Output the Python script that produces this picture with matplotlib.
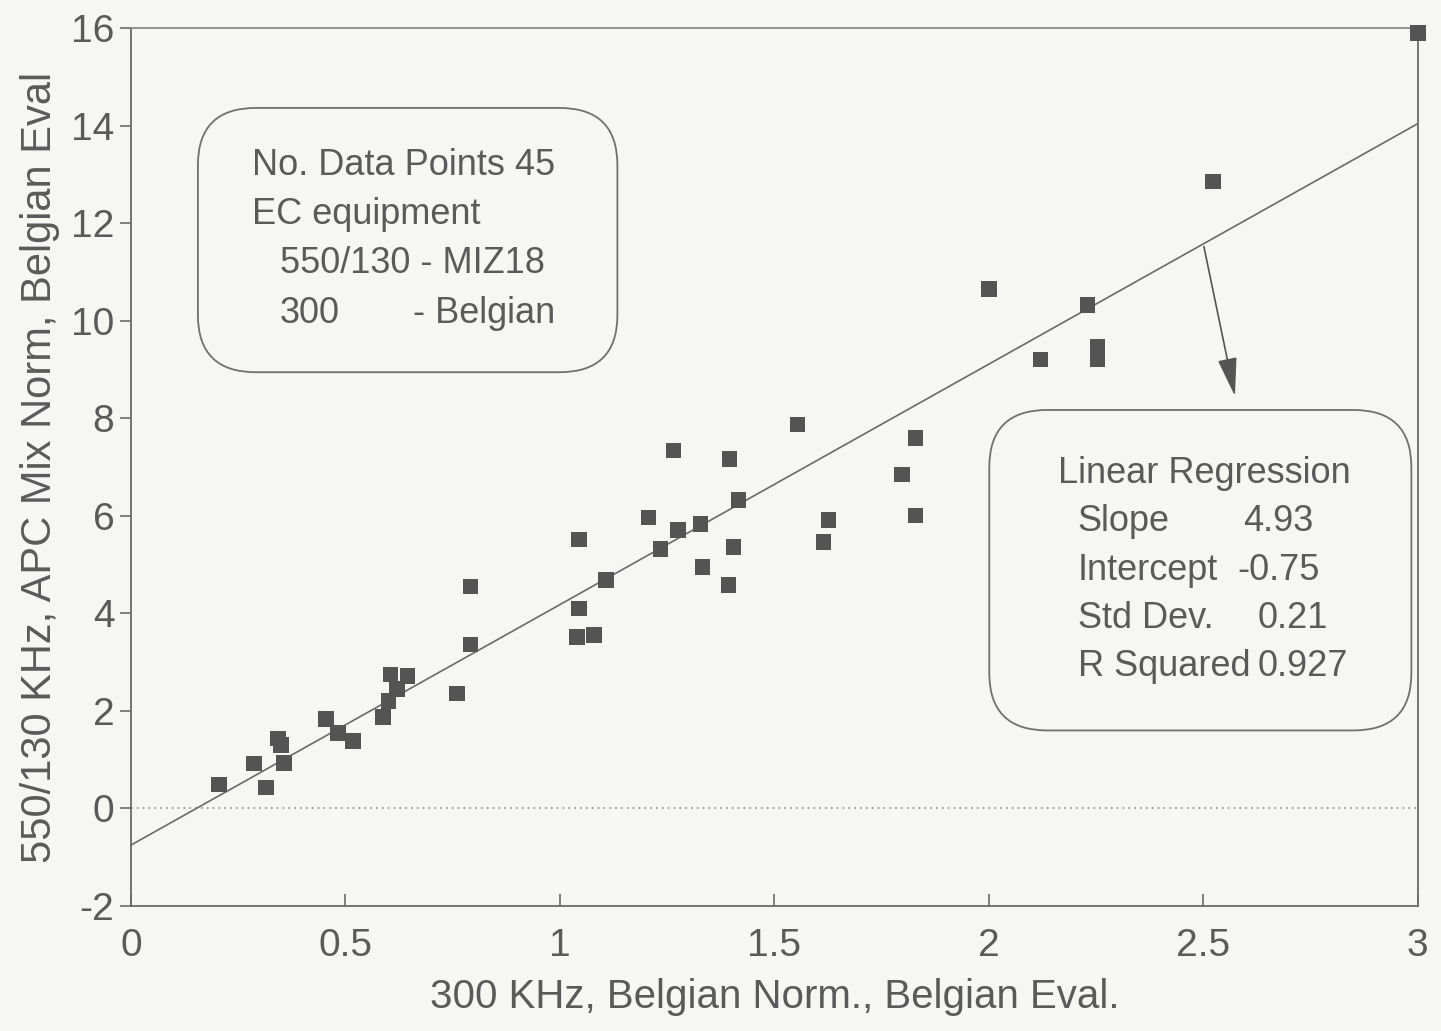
import numpy as np
import matplotlib.pyplot as plt
from matplotlib.patches import FancyBboxPatch

# === Data ===
x_300 = [0.205, 0.287, 0.315, 0.343, 0.350, 0.357, 0.455, 0.483, 0.517, 0.587,
         0.600, 0.605, 0.620, 0.645, 0.760, 0.792, 0.792, 1.044, 1.044, 1.040,
         1.080, 1.107, 1.265, 1.207, 1.235, 1.275, 1.328, 1.395, 1.416, 1.405,
         1.332, 1.393, 1.554, 1.829, 1.798, 1.829, 1.626, 1.614, 2.000, 2.230,
         2.120, 2.253, 2.253, 2.523, 3.000]
y_550 = [0.49, 0.92, 0.43, 1.43, 1.30, 0.93, 1.83, 1.55, 1.38, 1.88,
         2.20, 2.75, 2.45, 2.72, 2.36, 4.55, 3.36, 5.51, 4.10, 3.52,
         3.56, 4.68, 7.34, 5.97, 5.32, 5.71, 5.83, 7.16, 6.32, 5.36,
         4.95, 4.58, 7.87, 7.59, 6.85, 6.01, 5.91, 5.46, 10.65, 10.32,
         9.20, 9.47, 9.20, 12.85, 15.90]

slope = 4.93
intercept = -0.75
std_dev = 0.21
r_squared = 0.927

x_ticks = [0, 0.5, 1, 1.5, 2, 2.5, 3]
x_ticklabels = ['0', '0.5', '1', '1.5', '2', '2.5', '3']
y_ticks = [-2, 0, 2, 4, 6, 8, 10, 12, 14, 16]

ink = '#5a5a5a'
paper = '#f6f6f3'

plt.rcParams['font.family'] = ['Liberation Sans Narrow', 'Liberation Sans', 'DejaVu Sans']
plt.rcParams['axes.unicode_minus'] = False

fig = plt.figure(figsize=(14.41, 10.31), dpi=100, facecolor=paper)
ax = fig.add_axes([0.0909, 0.1212, 0.8930, 0.8516])
ax.set_facecolor(paper)

# scatter of measurements
ax.scatter(x_300, y_550, marker='s', s=125, color='#545454', edgecolors='none',
           zorder=3, clip_on=False)

# regression line
xl = np.array([0.0, 3.0])
ax.plot(xl, slope * xl + intercept, color='#6a6a6a', lw=1.2, zorder=2)

# zero line
ax.axhline(0, color='#8a8a8a', lw=1.2, ls=(0, (1, 2.5)), zorder=1)

ax.set_xlim(0, 3)
ax.set_ylim(-2, 16)
ax.set_xticks(x_ticks)
ax.set_xticklabels(x_ticklabels)
ax.set_yticks(y_ticks)

for side in ['left', 'right', 'bottom']:
    ax.spines[side].set_color('#6a6a6a')
    ax.spines[side].set_linewidth(1.3)
ax.spines['top'].set_color('#8a8a8a')
ax.spines['top'].set_linewidth(1.3)
ax.spines['top'].set_linestyle((0, (3, 1)))

ax.tick_params(axis='x', direction='in', length=9, width=1.2, color='#6a6a6a',
               labelsize=28, labelcolor=ink, pad=16)
ax.tick_params(axis='y', direction='out', length=8, width=1.2, color='#6a6a6a',
               labelsize=28, labelcolor=ink, pad=4)

ax.set_xlabel('300 KHz, Belgian Norm., Belgian Eval.', fontsize=29, color=ink, labelpad=10)
ax.set_ylabel('550/130 KHz, APC Mix Norm, Belgian Eval', fontsize=30, color=ink, labelpad=8)

# info boxes
box1 = FancyBboxPatch((0.052, 0.608), 0.326, 0.301, transform=ax.transAxes,
                      boxstyle='round,pad=0,rounding_size=0.045', mutation_aspect=1.45,
                      facecolor='none', edgecolor='#707070', lw=1.3, zorder=4)
ax.add_patch(box1)
box2 = FancyBboxPatch((0.667, 0.200), 0.328, 0.365, transform=ax.transAxes,
                      boxstyle='round,pad=0,rounding_size=0.045', mutation_aspect=1.45,
                      facecolor='none', edgecolor='#707070', lw=1.3, zorder=4)
ax.add_patch(box2)

fs = 26
def t(px, py, s, ha='left'):
    ax.text((px - 131) / 1287, (906 - py) / 878, s, transform=ax.transAxes,
            fontsize=fs, color=ink, ha=ha, va='center', zorder=5)

t(252, 165, 'No. Data Points 45')
t(252, 214, 'EC equipment')
t(280, 263, '550/130 - MIZ18')
t(280, 313, '300')
t(413, 313, '- Belgian')

t(1058, 473, 'Linear Regression')
t(1078, 521, 'Slope')
t(1243, 521, f'{slope:.2f}')
t(1078, 570, 'Intercept')
t(1238, 570, f'{intercept:.2f}')
t(1078, 618, 'Std Dev.')
t(1258, 618, f'{std_dev:.2f}')
t(1078, 666, 'R Squared')
t(1258, 666, f'{r_squared:.3f}')

# arrow from the regression line down to the regression box
ax.annotate('', xy=(2.575, 8.4), xytext=(2.5, slope * 2.5 + intercept),
            arrowprops=dict(arrowstyle='-|>,head_length=2.4,head_width=0.6',
                            color='#555555', lw=1.2), zorder=5)

fig.savefig('out.png', dpi=100, facecolor=paper)
